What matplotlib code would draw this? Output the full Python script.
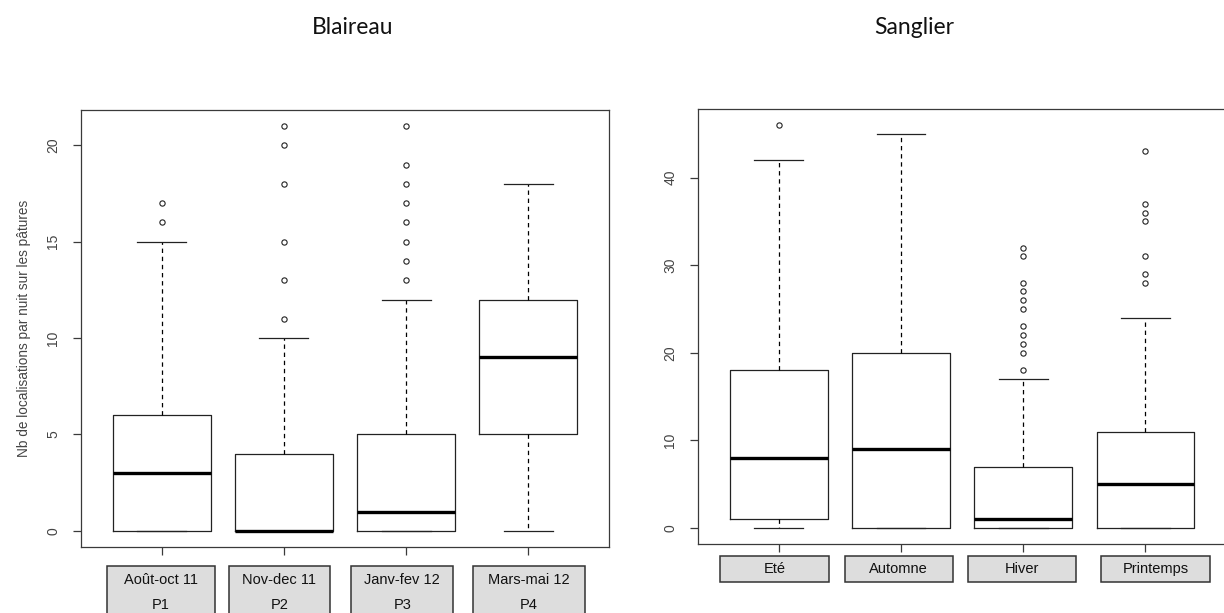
import numpy as np
import matplotlib.pyplot as plt
from matplotlib.patches import Rectangle
from matplotlib.transforms import blended_transform_factory

# Blaireau (badger) boxplot stats
bl_labels = ["Août-oct 11", "Nov-dec 11", "Janv-fev 12", "Mars-mai 12"]
bl_periods = ["P1", "P2", "P3", "P4"]
bl_whislo = [0, 0, 0, 0]
bl_q1 = [0, 0, 0, 5]
bl_med = [3, 0, 1, 9]
bl_q3 = [6, 4, 5, 12]
bl_whishi = [15, 10, 12, 18]
bl_fliers = [[16, 17],
             [11, 13, 15, 18, 20, 21],
             [13, 14, 15, 16, 17, 18, 19, 21],
             []]

# Sanglier (wild boar)
sa_labels = ["Eté", "Automne", "Hiver", "Printemps"]
sa_whislo = [0, 0, 0, 0]
sa_q1 = [1, 0, 0, 0]
sa_med = [8, 9, 1, 5]
sa_q3 = [18, 20, 7, 11]
sa_whishi = [42, 45, 17, 24]
sa_fliers = [[46],
             [],
             [18, 20, 21, 22, 23, 25, 26, 27, 28, 31, 32],
             [28, 29, 31, 35, 36, 37, 43]]

# label box extents (data x) under each panel
bl_box_x = [(0.556, 1.434), (1.553, 2.373), (2.552, 3.385), (3.548, 4.462)]
sa_box_x = [(0.52, 1.41), (1.54, 2.425), (2.55, 3.43), (3.635, 4.53)]

FRAME = "#3a3a3a"
TXT = "#444444"
plt.rcParams['font.family'] = ['Liberation Sans', 'DejaVu Sans']


def make_stats(whislo, q1, med, q3, whishi, fliers):
    out = []
    for i in range(len(med)):
        out.append(dict(whislo=whislo[i], q1=q1[i], med=med[i], q3=q3[i],
                        whishi=whishi[i], fliers=np.array(fliers[i], dtype=float)))
    return out


def draw_box(ax, stats, ylim, yticks):
    ax.bxp(stats, positions=[1, 2, 3, 4], widths=0.8, capwidths=0.4,
           showfliers=True, patch_artist=False,
           boxprops=dict(color="#222222", linewidth=0.9),
           medianprops=dict(color="black", linewidth=2.4, solid_capstyle="butt"),
           whiskerprops=dict(color="black", linewidth=0.9, linestyle=(0, (3.5, 3))),
           capprops=dict(color="#222222", linewidth=0.9),
           flierprops=dict(marker="o", markersize=3.8, markerfacecolor="none",
                           markeredgecolor="#222222", markeredgewidth=0.8))
    ax.set_xlim(0.34, 4.66)
    ax.set_ylim(*ylim)
    ax.set_yticks(yticks)
    ax.set_yticklabels([str(v) for v in yticks], rotation=90, va="center",
                       color=TXT, fontsize=10)
    ax.set_xticks([1, 2, 3, 4])
    ax.set_xticklabels([])
    ax.tick_params(axis="both", direction="out", length=5.8, width=0.9,
                   color=FRAME, pad=9)
    for s in ax.spines.values():
        s.set_color(FRAME)
        s.set_linewidth(0.9)


fig = plt.figure(figsize=(12.24, 6.13), dpi=100)
ax1 = fig.add_axes([0.0662, 0.1077, 0.4314, 0.7129])
ax2 = fig.add_axes([0.5703, 0.1126, 0.4314, 0.7096])

draw_box(ax1, make_stats(bl_whislo, bl_q1, bl_med, bl_q3, bl_whishi, bl_fliers),
         (-0.84, 21.84), [0, 5, 10, 15, 20])
draw_box(ax2, make_stats(sa_whislo, sa_q1, sa_med, sa_q3, sa_whishi, sa_fliers),
         (-1.84, 47.84), [0, 10, 20, 30, 40])

ax1.set_ylabel("Nb de localisations par nuit sur les pâtures", color=TXT,
               fontsize=9.8, labelpad=11)

# gray label boxes under the x axis
tr1 = blended_transform_factory(ax1.transData, fig.transFigure)
for (x0, x1), lab, per in zip(bl_box_x, bl_labels, bl_periods):
    ax1.add_patch(Rectangle((x0, -0.05), x1 - x0, 0.0767 + 0.05, transform=tr1,
                            facecolor="#dddddd", edgecolor="#333333",
                            linewidth=1.1, clip_on=False))
    xc = (x0 + x1) / 2
    ax1.text(xc, 1 - 580 / 613, lab, transform=tr1, ha="center", va="center",
             fontsize=10.5, color="#111111")
    ax1.text(xc, 1 - 605 / 613, per, transform=tr1, ha="center", va="center",
             fontsize=10.5, color="#111111")

tr2 = blended_transform_factory(ax2.transData, fig.transFigure)
for (x0, x1), lab in zip(sa_box_x, sa_labels):
    ax2.add_patch(Rectangle((x0, 1 - 582 / 613), x1 - x0, 26 / 613, transform=tr2,
                            facecolor="#dddddd", edgecolor="#333333",
                            linewidth=1.1, clip_on=False))
    ax2.text((x0 + x1) / 2, 1 - 569 / 613, lab, transform=tr2, ha="center",
             va="center", fontsize=10.5, color="#111111")

# panel titles
fig.text(353 / 1224, 1 - 27 / 613, "Blaireau", ha="center", va="center",
         fontsize=16.5, family=["Lato", "DejaVu Sans"], color="#111111")
fig.text(914 / 1224, 1 - 27 / 613, "Sanglier", ha="center", va="center",
         fontsize=16.5, family=["Lato", "DejaVu Sans"], color="#111111")

fig.savefig("out.png", dpi=100)
